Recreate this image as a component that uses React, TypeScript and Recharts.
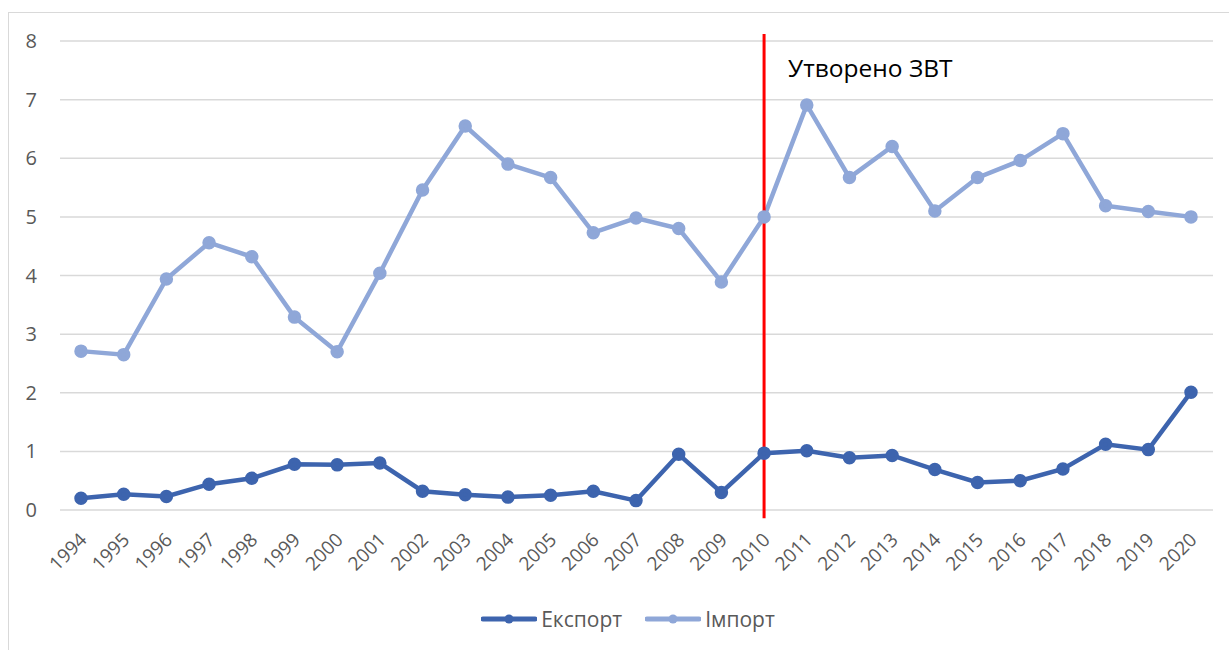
import React from "react";
import {
  LineChart,
  Line,
  XAxis,
  YAxis,
  CartesianGrid,
  Legend,
  ReferenceLine,
} from "recharts";

const years = [
  "1994", "1995", "1996", "1997", "1998", "1999", "2000", "2001", "2002",
  "2003", "2004", "2005", "2006", "2007", "2008", "2009", "2010", "2011",
  "2012", "2013", "2014", "2015", "2016", "2017", "2018", "2019", "2020",
];

const exportValues = [
  0.2, 0.27, 0.23, 0.44, 0.54, 0.78, 0.77, 0.8, 0.32,
  0.26, 0.22, 0.25, 0.32, 0.16, 0.95, 0.3, 0.97, 1.01,
  0.89, 0.93, 0.69, 0.47, 0.5, 0.7, 1.12, 1.03, 2.01,
];

const importValues = [
  2.71, 2.65, 3.94, 4.56, 4.32, 3.29, 2.7, 4.04, 5.46,
  6.55, 5.9, 5.67, 4.73, 4.98, 4.8, 3.89, 5.0, 6.91,
  5.67, 6.2, 5.1, 5.67, 5.96, 6.42, 5.19, 5.09, 5.0,
];

const yTicks = [0, 1, 2, 3, 4, 5, 6, 7, 8];

const markerYear = "2010";
const markerText = "Утворено ЗВТ";

const EXPORT_COLOR = "#3d64ae";
const IMPORT_COLOR = "#8fa7d8";
const FONT = "'Open Sans', sans-serif";

const seriesLegend = [
  { name: "Експорт", color: EXPORT_COLOR },
  { name: "Імпорт", color: IMPORT_COLOR },
];

const data = years.map((year, i) => ({
  year,
  export: exportValues[i],
  import: importValues[i],
}));

function YearTick(props: any) {
  const { x, y, payload } = props;
  return (
    <g transform={`translate(${x + 7}, ${y + 29})`}>
      <text
        x={0}
        y={0}
        transform="rotate(-45)"
        textAnchor="end"
        fill="#595959"
        fontSize={19}
        fontFamily={FONT}
      >
        {payload.value}
      </text>
    </g>
  );
}

function MarkerLabel(props: any) {
  const { viewBox } = props;
  return (
    <text
      x={viewBox.x + 24}
      y={77}
      fill="#000"
      fontSize={24.5}
      fontFamily={FONT}
    >
      {markerText}
    </text>
  );
}

function LegendContent() {
  return (
    <div
      style={{
        height: 30,
        display: "flex",
        justifyContent: "center",
        alignItems: "center",
        paddingLeft: 43,
        fontFamily: FONT,
        fontSize: 21,
        color: "#595959",
      }}
    >
      {seriesLegend.map((s, i) => (
        <div
          key={s.name}
          style={{ display: "flex", alignItems: "center", marginLeft: i === 0 ? 0 : 23 }}
        >
          <svg width={56} height={12} style={{ marginRight: 4 }}>
            <line x1={2} y1={6} x2={54} y2={6} stroke={s.color} strokeWidth={5} strokeLinecap="round" />
            <circle cx={28} cy={6} r={4.5} fill={s.color} />
          </svg>
          <span>{s.name}</span>
        </div>
      ))}
    </div>
  );
}

export default function App() {
  return (
    <div style={{ position: "absolute", left: 0, top: 0, width: 1229, height: 650, overflow: "hidden", background: "#fff" }}>
      <div
        style={{
          position: "absolute",
          left: 8,
          top: 12,
          width: 1260,
          height: 700,
          border: "1px solid #d9d9d9",
        }}
      />
      <div style={{ position: "absolute", left: 0, top: 0 }}>
        <LineChart
          width={1229}
          height={650}
          data={data}
          margin={{ top: 41, right: 16, bottom: 40, left: 0 }}
        >
          <CartesianGrid vertical={false} stroke="#d9d9d9" strokeWidth={1.5} />
          <XAxis
            dataKey="year"
            axisLine={false}
            tickLine={false}
            tickSize={0}
            interval={0}
            height={70}
            padding={{ left: 21, right: 22 }}
            tick={<YearTick />}
          />
          <YAxis
            domain={[0, 8]}
            ticks={yTicks}
            axisLine={false}
            tickLine={false}
            tickSize={0}
            tickMargin={23}
            width={60}
            tick={{ fill: "#595959", fontSize: 20, fontFamily: FONT }}
          />
          <Legend
            verticalAlign="bottom"
            height={30}
            content={<LegendContent />}
            wrapperStyle={{ bottom: 16 }}
          />
          <Line
            dataKey="export"
            name="Експорт"
            stroke={EXPORT_COLOR}
            strokeWidth={4.5}
            dot={{ r: 4.5, fill: EXPORT_COLOR, stroke: EXPORT_COLOR }}
            isAnimationActive={false}
          />
          <Line
            dataKey="import"
            name="Імпорт"
            stroke={IMPORT_COLOR}
            strokeWidth={4.5}
            dot={{ r: 4.5, fill: IMPORT_COLOR, stroke: IMPORT_COLOR }}
            isAnimationActive={false}
          />
          <ReferenceLine
            segment={[
              { x: markerYear, y: 8.12 },
              { x: markerYear, y: -0.14 },
            ]}
            ifOverflow="visible"
            stroke="#ff0000"
            strokeWidth={3}
            label={<MarkerLabel />}
          />
        </LineChart>
      </div>
    </div>
  );
}
